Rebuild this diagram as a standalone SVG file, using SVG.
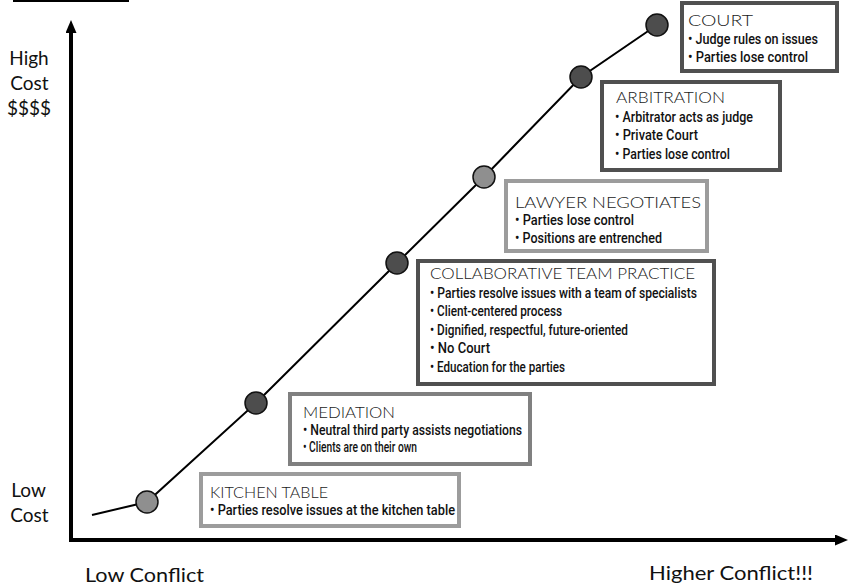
<svg xmlns="http://www.w3.org/2000/svg" width="850" height="587" viewBox="0 0 850 587">
<style>
.box{fill:#fff;stroke-width:4}
.dark{stroke:#505050}
.mid{stroke:#808080}
.light{stroke:#9c9c9c}
.title{font-family:Lato,"Liberation Sans",sans-serif;font-weight:300;font-size:16.5px;fill:#1a1a1a}
.bul{font-family:Roboto,"Liberation Sans",sans-serif;font-weight:500;font-size:14.5px;fill:#111}
.axl{font-family:Lato,"Liberation Sans",sans-serif;font-size:19px;fill:#111}
.dot{stroke:#111;stroke-width:1.5}
.dl{fill:#8f8f8f}
.dd{fill:#4d4d4d}
.ax{stroke:#000;stroke-width:4;fill:none}
</style>
<defs>
<marker id="arr" markerUnits="userSpaceOnUse" markerWidth="13" markerHeight="11" refX="1" refY="5.5" orient="auto">
<path d="M0,0 L13,5.5 L0,11 z" fill="#000"/>
</marker>
</defs>
<rect width="850" height="587" fill="#fff"/>
<line x1="13" y1="1" x2="129" y2="1" stroke="#000" stroke-width="2"/>
<g id="connectors">
<line class="ax" x1="71" y1="541" x2="71" y2="32" marker-end="url(#arr)"/>
<line class="ax" x1="69" y1="540" x2="836" y2="540" marker-end="url(#arr)"/>
<polyline points="92,515 147,502 256,403 397,263 484,177 581,77 657,25" fill="none" stroke="#000" stroke-width="2"/>
</g>
<g id="axis-labels">
<text class="axl" x="29" y="65" text-anchor="middle">High</text>
<text class="axl" x="29.5" y="90" text-anchor="middle">Cost</text>
<text class="axl" x="29" y="115" text-anchor="middle">$$$$</text>
<text class="axl" x="28.5" y="497" text-anchor="middle">Low</text>
<text class="axl" x="29.5" y="522" text-anchor="middle">Cost</text>
<text class="axl" x="85" y="582" textLength="119" lengthAdjust="spacingAndGlyphs">Low Conflict</text>
<text class="axl" x="649" y="580" textLength="164" lengthAdjust="spacingAndGlyphs">Higher Conflict!!!</text>
</g>
<g id="dots">
<circle class="dot dl" cx="147" cy="502" r="11"/>
<circle class="dot dd" cx="256" cy="403" r="11"/>
<circle class="dot dd" cx="397" cy="263" r="11"/>
<circle class="dot dl" cx="484" cy="177" r="11"/>
<circle class="dot dd" cx="581" cy="77" r="11"/>
<circle class="dot dd" cx="657" cy="25" r="11"/>
</g>
<g id="court">
<rect class="box dark" x="682" y="3" width="155" height="68"/>
<text class="title" x="688" y="26" textLength="65" lengthAdjust="spacingAndGlyphs">COURT</text>
<text class="bul" x="688" y="44" textLength="130" lengthAdjust="spacingAndGlyphs">• Judge rules on issues</text>
<text class="bul" x="688" y="62" textLength="120" lengthAdjust="spacingAndGlyphs">• Parties lose control</text>
</g>
<g id="arbitration">
<rect class="box dark" x="602" y="82" width="178" height="88"/>
<text class="title" x="616" y="103" textLength="109" lengthAdjust="spacingAndGlyphs">ARBITRATION</text>
<text class="bul" x="615" y="122" textLength="138" lengthAdjust="spacingAndGlyphs">• Arbitrator acts as judge</text>
<text class="bul" x="615" y="140" textLength="83" lengthAdjust="spacingAndGlyphs">• Private Court</text>
<text class="bul" x="615" y="159" textLength="115" lengthAdjust="spacingAndGlyphs">• Parties lose control</text>
</g>
<g id="lawyer">
<rect class="box light" x="506" y="181" width="201" height="70"/>
<text class="title" x="515" y="208" textLength="186" lengthAdjust="spacingAndGlyphs">LAWYER NEGOTIATES</text>
<text class="bul" x="515" y="225" textLength="119" lengthAdjust="spacingAndGlyphs">• Parties lose control</text>
<text class="bul" x="515" y="243" textLength="147" lengthAdjust="spacingAndGlyphs">• Positions are entrenched</text>
</g>
<g id="collaborative">
<rect class="box dark" x="418" y="261" width="296" height="123"/>
<text class="title" x="430" y="279" textLength="265" lengthAdjust="spacingAndGlyphs">COLLABORATIVE TEAM PRACTICE</text>
<text class="bul" x="430" y="297.5" textLength="267" lengthAdjust="spacingAndGlyphs">• Parties resolve issues with a team of specialists</text>
<text class="bul" x="430" y="316" textLength="132" lengthAdjust="spacingAndGlyphs">• Client-centered process</text>
<text class="bul" x="430" y="334.5" textLength="198" lengthAdjust="spacingAndGlyphs">• Dignified, respectful, future-oriented</text>
<text class="bul" x="430" y="353" textLength="60" lengthAdjust="spacingAndGlyphs">• No Court</text>
<text class="bul" x="430" y="371.5" textLength="135" lengthAdjust="spacingAndGlyphs">• Education for the parties</text>
</g>
<g id="mediation">
<rect class="box mid" x="290" y="394" width="240" height="70"/>
<text class="title" x="303" y="418" textLength="92" lengthAdjust="spacingAndGlyphs">MEDIATION</text>
<text class="bul" x="303" y="435" textLength="219" lengthAdjust="spacingAndGlyphs">• Neutral third party assists negotiations</text>
<text class="bul" x="303" y="452" textLength="114" lengthAdjust="spacingAndGlyphs">• Clients are on their own</text>
</g>
<g id="kitchen">
<rect class="box light" x="201" y="474" width="258" height="52"/>
<text class="title" x="210" y="498" textLength="118" lengthAdjust="spacingAndGlyphs">KITCHEN TABLE</text>
<text class="bul" x="210" y="515" textLength="245" lengthAdjust="spacingAndGlyphs">• Parties resolve issues at the kitchen table</text>
</g>
</svg>
